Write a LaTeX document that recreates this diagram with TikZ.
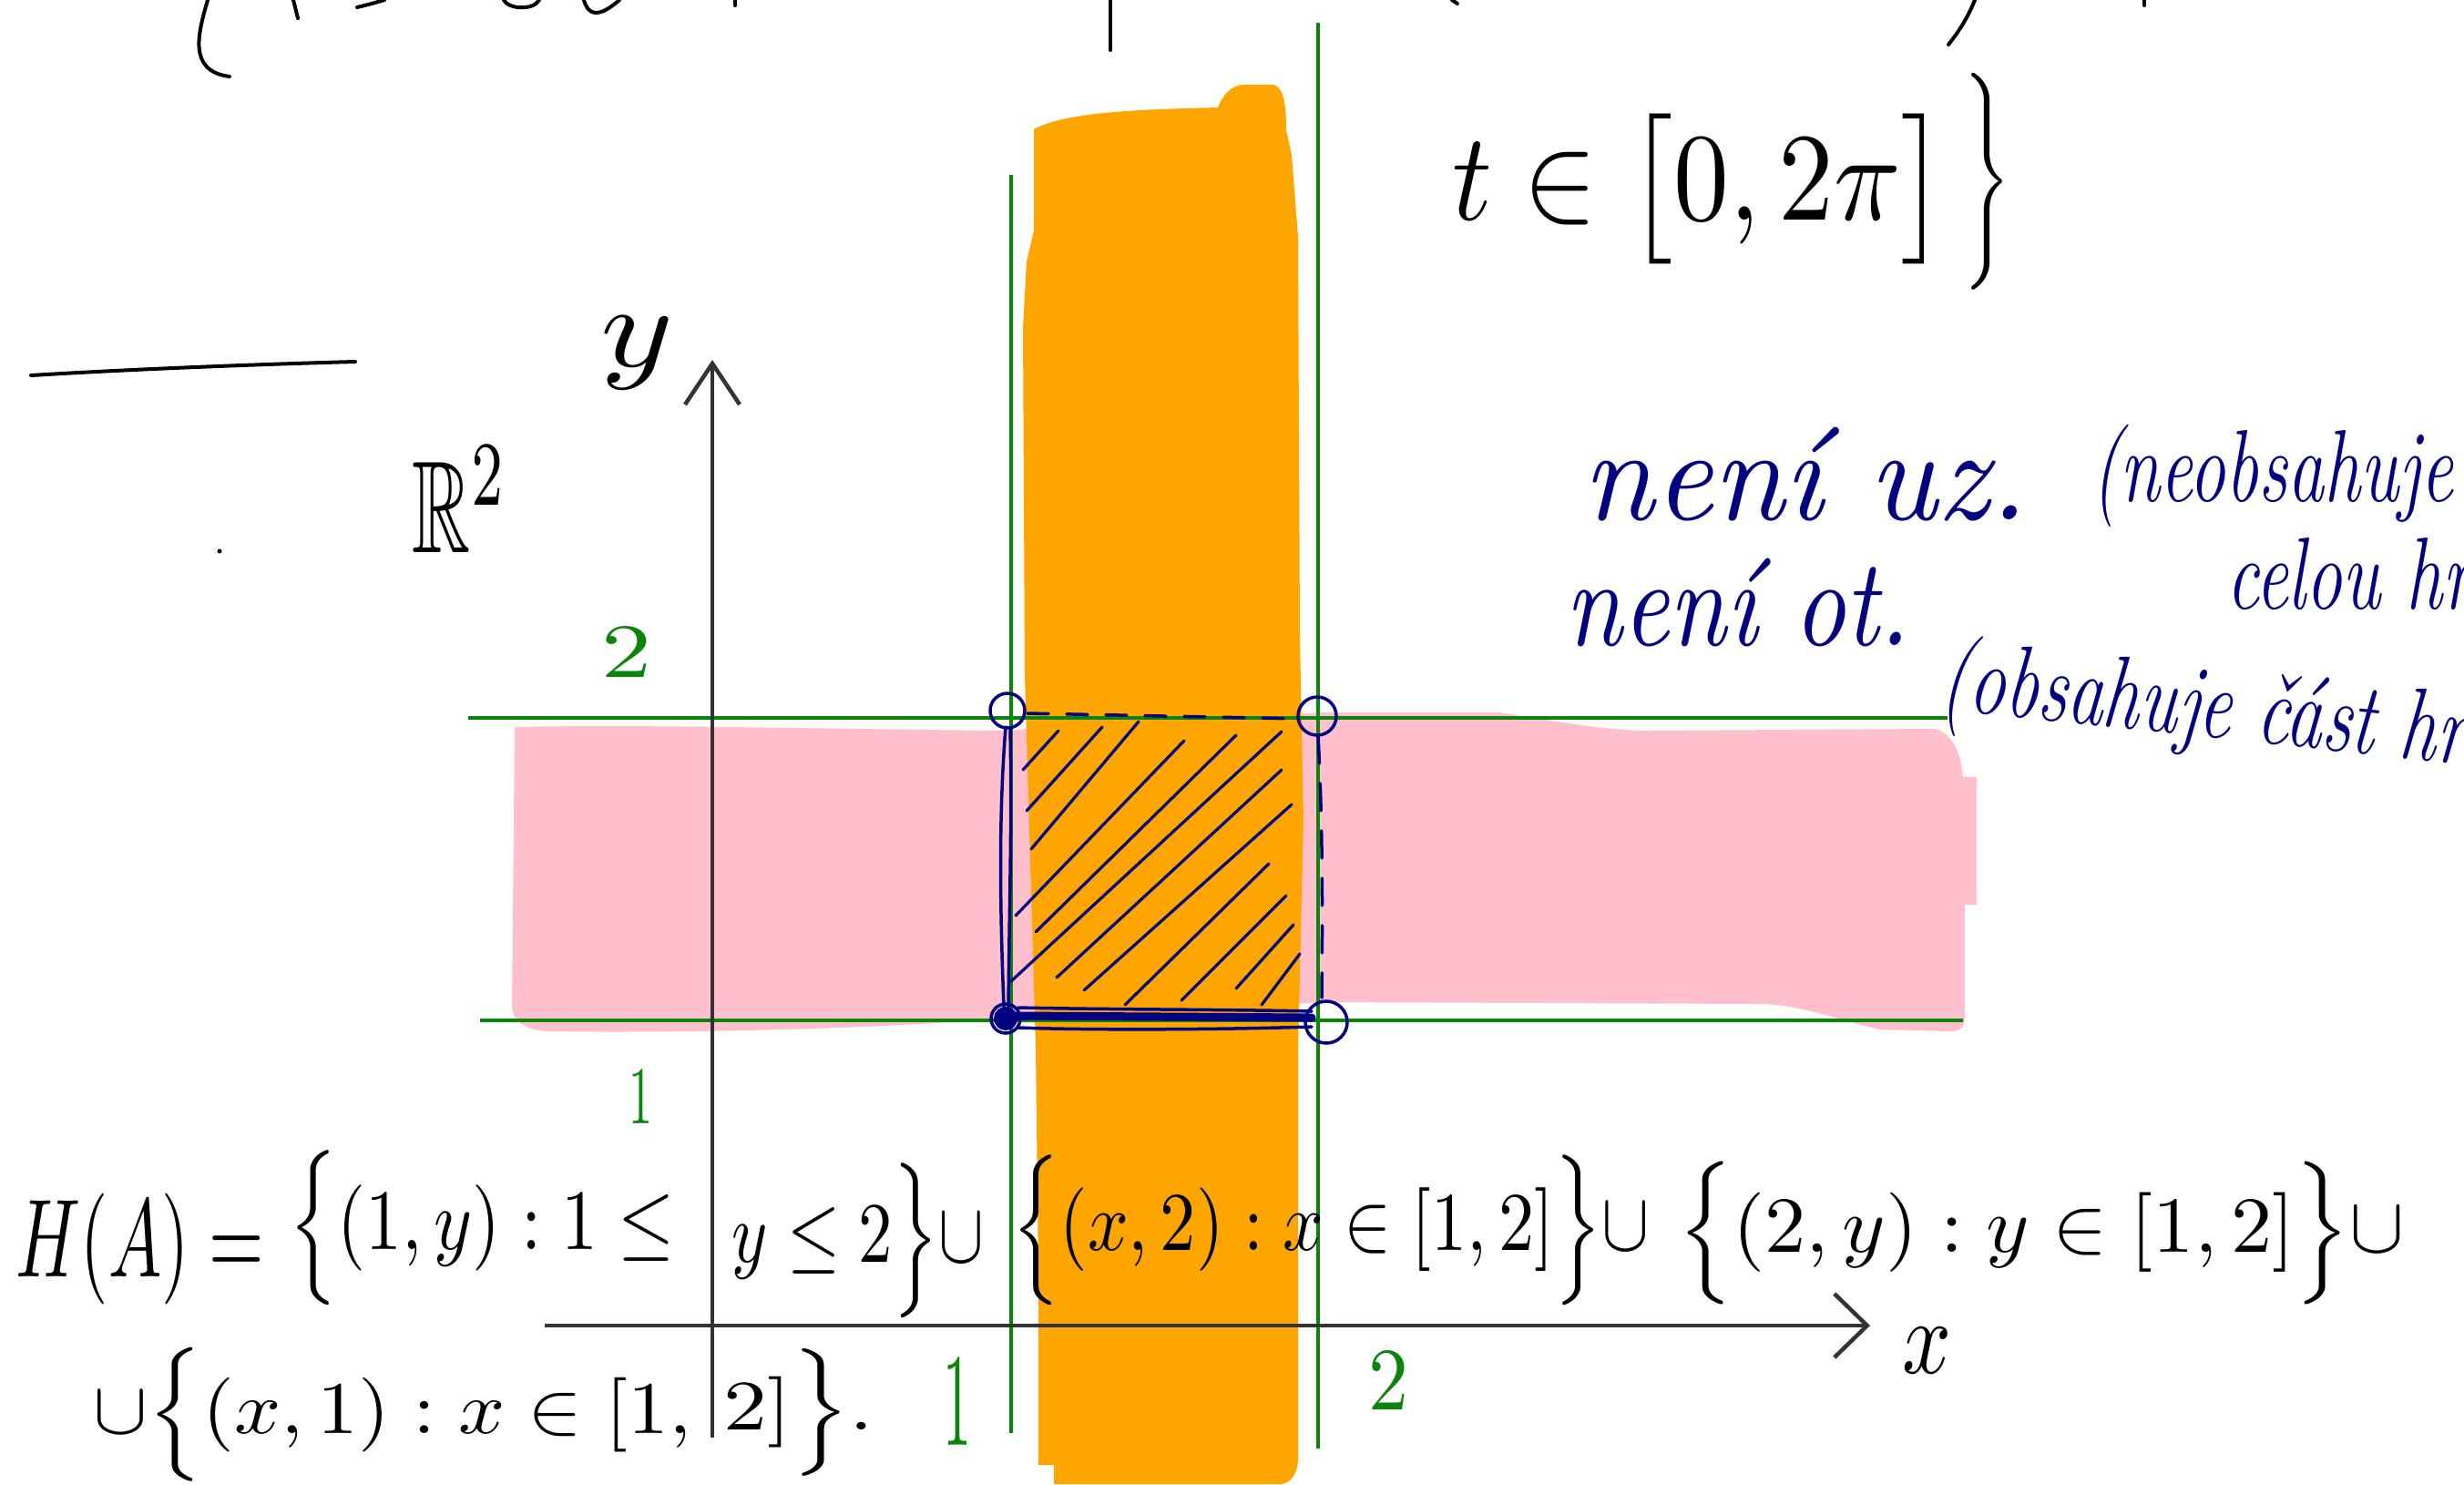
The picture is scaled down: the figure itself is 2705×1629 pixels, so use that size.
\documentclass[tikz,border=0pt]{standalone}
\usepackage{fontspec}
\usepackage{amsmath,amssymb}
\usetikzlibrary{arrows.meta}
\definecolor{gline}{HTML}{0A850A}
\definecolor{pinkfill}{HTML}{FFC0CB}
\definecolor{orangefill}{HTML}{FFA500}
\definecolor{navyink}{HTML}{000080}
\definecolor{axisgray}{HTML}{333333}
\newlength{\pxu}\setlength{\pxu}{0.1mm}
\newcommand{\fitpx}[3]{\resizebox*{#1\pxu}{#2\pxu}{#3}}
\newcommand{\bluetxt}[1]{\scalebox{0.71}[1]{\fontsize{32}{38}\selectfont\itshape #1}}
\begin{document}
\begin{tikzpicture}[x=0.1mm,y=-0.1mm,
  greenline/.style={draw=gline,line width=0.4mm},
  axis/.style={draw=axisgray,line width=0.45mm},
  ink/.style={draw=black,line width=0.4mm,line cap=round,line join=round},
  blueink/.style={draw=navyink,line width=0.35mm,line cap=round,line join=round},
  hatch/.style={blueink,line width=0.32mm},
  lbl/.style={inner sep=0pt,outer sep=0pt},
  greenlbl/.style={lbl,text=gline},
  bluelbl/.style={lbl,text=navyink}]
\useasboundingbox (0,0) rectangle (2705,1629);
\clip (0,0) rectangle (2705,1629);
\fill[white] (0,0) rectangle (2705,1629);

% pink band
\fill[pinkfill] (565,798) .. controls (700,795) and (900,800) .. (1100,802) -- (1300,790) -- (1451,782) -- (1645,782)
  .. controls (1700,790) and (1760,802) .. (1808,802) -- (2124,800)
  .. controls (2145,805) and (2153,830) .. (2155,853) -- (2170,853) -- (2170,993) -- (2157,993) -- (2157,1120)
  .. controls (2155,1130) and (2150,1132) .. (2140,1132) -- (2063,1130)
  .. controls (2020,1120) and (1980,1104) .. (1936,1102) -- (1451,1100) -- (1300,1110) -- (1100,1118)
  .. controls (950,1130) and (750,1134) .. (600,1132) .. controls (575,1130) and (563,1120) .. (562,1105) -- cycle;

% orange band
\fill[orangefill] (1135,142) .. controls (1170,122) and (1260,120) .. (1337,118)
  .. controls (1342,105) and (1352,93) .. (1365,93) -- (1398,93)
  .. controls (1410,95) and (1412,120) .. (1412,143) -- (1418,170) -- (1425,260) -- (1427,700) -- (1431,900)
  -- (1425,1150) -- (1425,1600) .. controls (1425,1620) and (1415,1629) .. (1405,1629)
  -- (1157,1629) -- (1157,1608) -- (1140,1608) -- (1140,1400) -- (1137,1150) -- (1125,740)
  -- (1123,360) -- (1127,287) -- (1135,253) -- cycle;

% green grid lines
\draw[greenline] (514,788) -- (2138,788);
\draw[greenline] (527,1120) -- (2155,1120);
\draw[greenline] (1110,192) -- (1110,1573);
\draw[greenline] (1447,25) -- (1447,1590);

% axes
\coordinate (yb) at (782,1578);
\coordinate (yt) at (782,395);
\coordinate (xl) at (598,1455);
\coordinate (xr) at (2053,1455);
\draw[axis,-{Straight Barb[length=4.5mm,width=6mm]}] (yb) -- (yt);
\draw[axis,-{Straight Barb[length=3.6mm,width=7mm]}] (xl) -- (xr);

% blue square boundary
\draw[blueink] (1106,780) circle[radius=1.9mm];
\draw[blueink] (1446,786) circle[radius=2.1mm];
\draw[blueink] (1456,1122) circle[radius=2.3mm];
\fill[navyink] (1104,1118) circle[radius=1.3mm];
\draw[blueink] (1104,1118) circle[radius=1.6mm];
\draw[blueink] (1104,798) .. controls (1096,900) and (1098,1000) .. (1102,1105);
\draw[blueink] (1109,800) .. controls (1111,900) and (1108,1000) .. (1107,1105);
\draw[blueink,line width=0.9mm] (1115,1115) -- (1440,1117);
\draw[blueink] (1118,1106) .. controls (1200,1108) and (1350,1108) .. (1440,1110);
\draw[blueink] (1118,1128) .. controls (1200,1131) and (1350,1130) .. (1440,1127);
\draw[blueink,dash pattern=on 2.3mm off 2mm] (1128,783) -- (1428,789);
\draw[blueink,dash pattern=on 3mm off 2.2mm] (1447,808) .. controls (1452,900) and (1452,1000) .. (1451,1095);
\foreach \a/\b/\c/\d in {1123/845/1162/802, 1127/890/1210/798, 1132/932/1250/792, 1115/1005/1300/813,
  1137/1023/1357/807, 1110/1077/1407/803, 1160/1073/1407/845, 1190/1087/1418/883,
  1235/1103/1393/948, 1297/1098/1412/983, 1357/1085/1420/1015, 1385/1103/1427/1047}
  \draw[hatch] (\a,\b) -- (\c,\d);

% top fragments of cut-off handwriting
\draw[ink] (228,0) .. controls (218,35) and (205,78) .. (252,84);
\draw[ink] (322,0) -- (327,20);
\draw[ink] (392,8) .. controls (405,5) and (415,2) .. (422,0);
\draw[ink] (553,0) .. controls (558,10) and (585,12) .. (592,0);
\draw[ink] (641,0) .. controls (645,15) and (655,22) .. (680,0);
\draw[ink] (807,0) -- (807,6);
\draw[ink] (1219,0) -- (1219,55);
\draw[ink] (1594,0) -- (1600,4);
\draw[ink] (2168,0) .. controls (2160,20) and (2150,35) .. (2139,49);
\draw[ink] (2354,0) -- (2354,6);

% short line and dot
\draw[ink] (34,412) .. controls (150,405) and (280,400) .. (390,397);
\fill (241,605) circle[radius=0.25mm];

% black labels
\node[lbl] (tint) at (1866,207) {\fitpx{543}{165}{$t\in\bigl[0,2\pi\bigr]$}};
\node[lbl] (tbrace) at (2181,199) {\fitpx{52}{238}{$\Bigg\}$}};
\node[lbl] (rtwo) at (505,548) {\fitpx{104}{117}{$\mathbb{R}^2$}};
\node[lbl] (ylab) at (700,387) {\fitpx{80}{80}{$y$}};
\node[lbl] (xlab) at (2115,1482) {\fitpx{54}{50}{$x$}};

% green labels
\node[greenlbl] (g2a) at (688,715) {\fitpx{55}{56}{2}};
\node[greenlbl] (g1a) at (703,1203) {\fitpx{26}{60}{1}};
\node[greenlbl] (g1b) at (1051,1538) {\fitpx{31}{97}{1}};
\node[greenlbl] (g2b) at (1524,1515) {\fitpx{44}{65}{2}};

% formula H(A)
\node[lbl] (c1) at (154,1371) {\fitpx{272}{122}{$H(A)=$}};
\node[lbl] (c2) at (529,1348) {\fitpx{424}{170}{$\Bigl\{(1,y):1\le$}};
\node[lbl] (c3) at (942,1362) {\fitpx{276}{170}{$y\le 2\Bigr\}\cup$}};
\node[lbl] (c4) at (1461,1350) {\fitpx{699}{165}{$\Bigl\{(x,2):x\in[1,2]\Bigr\}\cup$}};
\node[lbl] (c5) at (2241,1353) {\fitpx{798}{157}{$\Bigl\{(2,y):y\in[1,2]\Bigr\}\cup$}};
\node[lbl] (c6) at (431,1553) {\fitpx{656}{147}{$\cup\Bigl\{(x,1):x\in[1,$}};
\node[lbl] (c7) at (877,1550) {\fitpx{165}{140}{$2]\Bigr\}.$}};

% blue notes
\node[bluelbl] (uz) at (1982,521) {\fitpx{488}{103}{\itshape není uz.}};
\node[bluelbl,anchor=base west] (neob) at (2296,550) {\bluetxt{(neobsahuje}};
\node[bluelbl,anchor=base west] (celou) at (2444,668) {\bluetxt{celou hranici)}};
\node[bluelbl] (ot) at (1908,661) {\fitpx{378}{97}{\itshape není ot.}};
\node[bluelbl,anchor=base west,rotate=-6] (obs) at (2128,778) {\bluetxt{(obsahuje část hranice)}};
\end{tikzpicture}
\end{document}
